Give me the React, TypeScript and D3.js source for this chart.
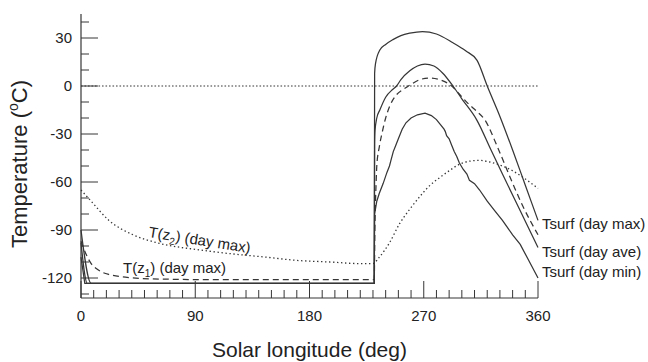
import React from 'react';
import * as d3 from 'd3';

// Solar longitude (deg) / temperature (°C)
const maxLs = [0, 8, 231, 231.3, 232, 235.4, 240, 245.7, 252, 259, 269, 280, 293, 303, 312, 320, 330, 340, 350, 360];
const maxT = [-90, -123.3, -123.3, 8, 14, 22.5, 26, 29, 31.5, 33, 34, 32.5, 27, 22, 16, 0, -19, -40, -62, -84];

const aveLs = [0, 5, 231, 231.3, 231.6, 233, 235.4, 240, 245.7, 248.6, 252, 259, 265, 271, 278, 285, 293, 300, 311.6, 323, 332, 346, 360];
const aveT = [-98, -123.3, -123.3, -36, -28, -20, -15, -7, -2, 0, 4, 9.5, 12.5, 13.7, 12.5, 8, 0, -8, -21, -40, -55, -78, -101];

const minLs = [0, 3, 231, 231.3, 233, 235, 238, 241, 243, 244, 245, 246, 248, 250, 253, 256, 260, 265, 271, 276, 280, 283, 286, 287, 288, 290, 292, 294, 296, 298, 301, 304, 306, 310, 314, 320, 326, 332, 340, 346, 352, 360];
const minT = [-107, -123.3, -123.3, -80, -72, -67, -61, -54, -50, -47, -44, -41, -37, -33, -27, -23, -20, -18, -17, -18.5, -21, -24, -27, -28.5, -31, -33, -37, -41, -44, -48, -52, -55, -59, -61, -65, -72, -78, -84, -93, -99, -108, -120];

const z1Ls = [0, 4.5, 8, 12, 17, 23, 35, 54, 100, 231, 231.5, 232.5, 233, 235, 237, 240, 243, 248, 254, 258, 267, 275, 284, 292, 298, 305, 312, 318, 328, 338, 348, 360];
const z1T = [-97, -106, -111, -114, -116.5, -118, -119.5, -120.5, -121, -121, -90, -60, -50, -38, -30, -20, -13, -6, -2, 0, 4, 5, 3.5, 0, -5, -11, -16, -21, -38, -57, -75, -93];

const z2Ls = [0, 8, 22, 41, 60, 94, 120, 146, 170, 196, 220, 230, 235, 243, 251, 259, 267, 275, 283, 290, 298, 306, 314, 322, 332, 340, 348, 360];
const z2T = [-65, -72, -84, -93, -98, -102.5, -105, -107, -109, -110, -111, -111, -107, -98, -86, -77, -69, -62, -57, -53, -49, -47, -46.5, -47.5, -50, -53, -57, -64];

const xMajor = [0, 90, 180, 270, 360];
const yMajor = [-120, -90, -60, -30, 0, 30];
const curveLabels = ['Tsurf (day max)', 'Tsurf (day ave)', 'Tsurf (day min)'];
const curveLabelT = [-86, -103.5, -116];

const INK = '#363636';
const FONT = '"Liberation Sans", Arial, Helvetica, sans-serif';

export default function App() {
  const width = 648;
  const height = 362;

  const x = d3.scaleLinear().domain([0, 360]).range([81, 538]);
  const y = d3.scaleLinear().domain([-132.5, 45]).range([298, 14]);

  const pts = (ls: number[], ts: number[]) => ls.map((l, i) => [l, ts[i]] as [number, number]);

  const smooth = d3
    .line<[number, number]>()
    .x(d => x(d[0]))
    .y(d => y(d[1]))
    .curve(d3.curveMonotoneX);

  const rough = d3
    .line<[number, number]>()
    .x(d => x(d[0]))
    .y(d => y(d[1]));

  const xMinor = d3.range(0, 361, 10);
  const yMinor = d3.range(-130, 41, 10);

  return (
    <div style={{ position: 'absolute', left: 0, top: 0 }}>
      <svg width={width} height={height} style={{ display: 'block', background: '#fff' }}>
        {/* zero line */}
        <line x1={x(0)} x2={x(360)} y1={y(0)} y2={y(0)} stroke={INK} strokeWidth={1} strokeDasharray="1.6,1.9" />

        {/* curves */}
        <path d={smooth(pts(z2Ls, z2T)) || ''} fill="none" stroke={INK} strokeWidth={1.3} strokeDasharray="1.4,2.6" />
        <path d={smooth(pts(z1Ls, z1T)) || ''} fill="none" stroke={INK} strokeWidth={1.25} strokeDasharray="6,4" />
        <path d={smooth(pts(maxLs, maxT)) || ''} fill="none" stroke={INK} strokeWidth={1.25} />
        <path d={smooth(pts(aveLs, aveT)) || ''} fill="none" stroke={INK} strokeWidth={1.25} />
        <path d={rough(pts(minLs, minT)) || ''} fill="none" stroke={INK} strokeWidth={1.25} />

        {/* axes */}
        <line x1={x(0)} x2={x(0)} y1={y(45)} y2={y(-132.5)} stroke={INK} strokeWidth={1.2} />
        <line x1={x(0)} x2={x(360)} y1={y(-132.5)} y2={y(-132.5)} stroke={INK} strokeWidth={1.2} />
        {yMinor.map(t => (
          <line key={`ym${t}`} x1={x(0)} x2={x(0) + (t % 30 === 0 ? 17 : 8)} y1={y(t)} y2={y(t)} stroke={INK} strokeWidth={1} />
        ))}
        {xMinor.map(l => (
          <line key={`xm${l}`} x1={x(l)} x2={x(l)} y1={y(-132.5)} y2={y(-132.5) - (l % 90 === 0 ? 17 : 8)} stroke={INK} strokeWidth={1} />
        ))}

        {yMajor.map(t => (
          <text key={`yl${t}`} x={72} y={y(t)} dy="0.36em" textAnchor="end" fontSize={15} fontFamily={FONT} fill="#222">
            {t}
          </text>
        ))}
        {xMajor.map(l => (
          <text key={`xl${l}`} x={x(l)} y={321} textAnchor="middle" fontSize={15} fontFamily={FONT} fill="#222">
            {l}
          </text>
        ))}

        {/* titles */}
        <text x={(x(0) + x(360)) / 2} y={357} textAnchor="middle" fontSize={21} fontFamily={FONT} fill="#222">
          Solar longitude (deg)
        </text>
        <text transform={`translate(27,164) rotate(-90)`} textAnchor="middle" fontSize={22} fontFamily={FONT} fill="#222">
          Temperature (<tspan fontSize={14} dy={-9}>o</tspan><tspan dy={9}>C)</tspan>
        </text>

        {/* curve labels */}
        {curveLabels.map((s, i) => (
          <text key={s} x={542} y={y(curveLabelT[i])} dy="0.36em" fontSize={15} fontFamily={FONT} fill="#222">
            {s}
          </text>
        ))}
        <text transform="translate(148,237) rotate(9)" fontSize={15} fontFamily={FONT} fill="#222">
          T(z<tspan fontSize={10} dy={4}>2</tspan><tspan dy={-4}>) (day max)</tspan>
        </text>
        <text x={123} y={273} fontSize={15} fontFamily={FONT} fill="#222">
          T(z<tspan fontSize={10} dy={4}>1</tspan><tspan dy={-4}>) (day max)</tspan>
        </text>
      </svg>
    </div>
  );
}
